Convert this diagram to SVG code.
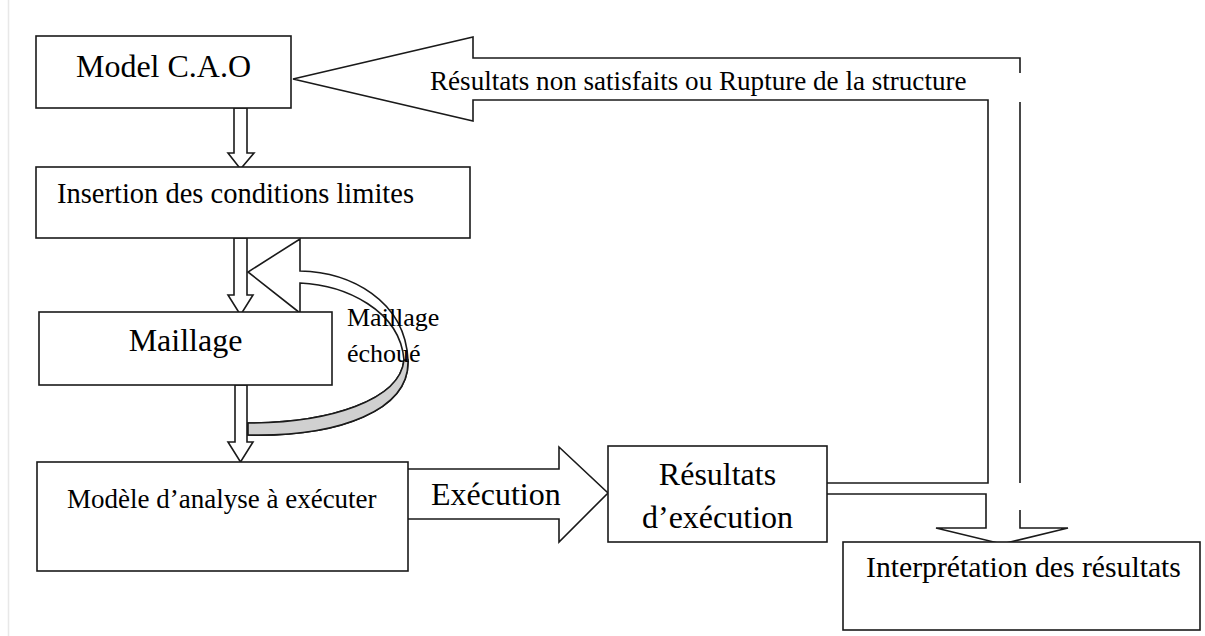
<svg xmlns="http://www.w3.org/2000/svg" width="1205" height="636" viewBox="0 0 1205 636">
<style>
.box{fill:#fff;stroke:#1a1a1a;stroke-width:1.6}
.ln{fill:none;stroke:#1a1a1a;stroke-width:1.6;stroke-linejoin:miter}
.arw{fill:#fff;stroke:#1a1a1a;stroke-width:1.6;stroke-linejoin:miter}
.t{font-family:"Liberation Serif","Times New Roman",serif;fill:#000}
</style>
<rect width="1205" height="636" fill="#fff"/>
<line x1="8.5" y1="0" x2="8.5" y2="636" stroke="#e8e8e8" stroke-width="1.5"/>
<g id="connectors">
  <path class="arw" d="M234,108 L247,108 L247,153 L254,153 L240.5,169 L228,153 L234,153 Z"/>
  <path class="arw" d="M234,238 L247,238 L247,295 L253,295 L240.5,315 L228,295 L234,295 Z"/>
  <path class="arw" d="M235,385 L247,385 L247,442 L253,442 L240.5,462 L228,442 L235,442 Z"/>
  <path class="arw" d="M300,271 L300,239 L248,272 L300,313 L300,283 C345,285 400,310 404,360 C400,400 330,423 248,423 L248,435 C340,437 410,410 408,360 C405,300 350,272 300,271 Z"/>
  <path d="M404,360 C400,400 330,423 248,423 L248,435 C340,437 410,410 408,360 Z" fill="#d0d0d0" stroke="#1a1a1a" stroke-width="1.6"/>
  <path class="arw" d="M408,469 L559,469 L559,447 L608,493 L559,542 L559,519 L408,519"/>
  <path class="ln" d="M827,483 L988,483 L988,100 L473,100 L473,121 L293,79 L473,37 L473,58 L1020,58 L1020,73"/>
  <path class="ln" d="M1020,102 L1020,483"/>
  <path class="ln" d="M1020,510 L1020,528 L1068,528 L1002,544 L936,528 L986,528 L986,494 L827,494"/>
  <text class="t" x="430" y="90" font-size="27.1">Résultats non satisfaits ou Rupture de la structure</text>
  <text class="t" x="431" y="505" font-size="32">Exécution</text>
  <text class="t" x="347" y="326" font-size="26">Maillage</text>
  <text class="t" x="347" y="362" font-size="26">échoué</text>
</g>
<g id="n-cao">
  <rect class="box" x="36" y="36" width="255" height="72"/>
  <text class="t" x="163.5" y="77" font-size="32" text-anchor="middle">Model C.A.O</text>
</g>
<g id="n-insertion">
  <rect class="box" x="36" y="167" width="434" height="71"/>
  <text class="t" x="57" y="203" font-size="28.5">Insertion des conditions limites</text>
</g>
<g id="n-maillage">
  <rect class="box" x="39" y="312" width="293" height="73"/>
  <text class="t" x="185.5" y="351" font-size="32" text-anchor="middle">Maillage</text>
</g>
<g id="n-modele">
  <rect class="box" x="37" y="462" width="371" height="109"/>
  <text class="t" x="67" y="508" font-size="27">Modèle d’analyse à exécuter</text>
</g>
<g id="n-resultats">
  <rect class="box" x="608" y="446" width="219" height="96"/>
  <text class="t" x="717.5" y="485" font-size="32" text-anchor="middle">Résultats</text>
  <text class="t" x="717.5" y="528" font-size="32" text-anchor="middle">d’exécution</text>
</g>
<g id="n-interpretation">
  <rect class="box" x="843" y="542" width="357" height="88"/>
  <text class="t" x="866" y="577" font-size="29.7">Interprétation des résultats</text>
</g>
</svg>
